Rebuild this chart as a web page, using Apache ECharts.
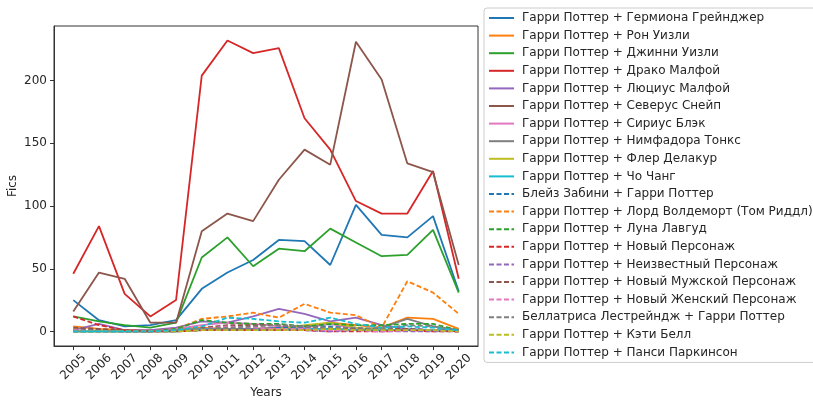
<!DOCTYPE html>
<html>
<head>
<meta charset="utf-8">
<script src="https://cdn.jsdelivr.net/npm/echarts@6/dist/echarts.min.js"></script>
<style>
html,body{margin:0;padding:0;background:#fff;}
#chart{width:813px;height:400px;}
</style>
</head>
<body>
<div id="chart"></div>
<script>
const years = [2005,2006,2007,2008,2009,2010,2011,2012,2013,2014,2015,2016,2017,2018,2019,2020];
const yTicks = [0,50,100,150,200];
const xTitle = 'Years';
const yTitle = 'Fics';

const names = [
  "Гарри Поттер + Гермиона Грейнджер",
  "Гарри Поттер + Рон Уизли",
  "Гарри Поттер + Джинни Уизли",
  "Гарри Поттер + Драко Малфой",
  "Гарри Поттер + Люциус Малфой",
  "Гарри Поттер + Северус Снейп",
  "Гарри Поттер + Сириус Блэк",
  "Гарри Поттер + Нимфадора Тонкс",
  "Гарри Поттер + Флер Делакур",
  "Гарри Поттер + Чо Чанг",
  "Блейз Забини + Гарри Поттер",
  "Гарри Поттер + Лорд Волдеморт (Том Риддл)",
  "Гарри Поттер + Луна Лавгуд",
  "Гарри Поттер + Новый Персонаж",
  "Гарри Поттер + Неизвестный Персонаж",
  "Гарри Поттер + Новый Мужской Персонаж",
  "Гарри Поттер + Новый Женский Персонаж",
  "Беллатриса Лестрейндж + Гарри Поттер",
  "Гарри Поттер + Кэти Белл",
  "Гарри Поттер + Панси Паркинсон"
];

const hermione  = [25,9,4,5,9,34,47,57,73,72,53,101,77,75,92,32];
const ron       = [4,2,1,1,2,3,2,2,3,4,7,5,3,11,10,2];
const ginny     = [12,8,5,3,7,59,75,52,66,64,82,71,60,61,81,31];
const draco     = [46,84,30,12,25,204,232,222,226,170,145,104,94,94,128,42];
const lucius    = [1,6,1,1,3,8,7,12,18,14,8,11,5,2,1,1];
const snape     = [16,47,42,7,7,80,94,88,121,145,133,231,201,134,127,53];
const sirius    = [0,0,0,0,2,5,7,6,4,3,6,2,1,1,1,0];
const tonks     = [0,0,0,0,1,2,2,2,3,2,2,1,3,10,4,1];
const fleur     = [0,0,0,0,0,1,1,1,2,5,7,3,1,1,1,0];
const cho       = [0,0,0,0,0,2,1,1,1,2,2,1,1,1,1,0];
const blaise    = [0,0,0,0,0,1,1,2,3,4,4,2,1,2,1,1];
const voldemort = [2,1,1,0,2,10,12,15,11,22,15,13,3,40,31,14];
const luna      = [1,1,0,0,2,9,7,6,6,4,6,5,5,6,6,1];
const newChar   = [12,5,1,0,0,1,1,1,1,1,0,0,0,1,0,0];
const unknown   = [1,1,0,0,0,1,1,1,1,1,0,1,0,0,0,0];
const newMale   = [3,2,1,0,1,3,5,5,5,4,2,2,2,2,1,0];
const newFemale = [1,0,0,0,1,2,4,3,2,2,1,1,0,1,1,0];
const bellatrix = [0,0,0,0,1,2,3,4,5,4,3,3,2,5,4,1];
const katie     = [0,0,0,0,0,1,1,1,1,1,2,1,1,1,1,0];
const pansy     = [0,0,0,0,1,4,11,10,8,7,11,6,3,4,3,1];

const allValues = [hermione,ron,ginny,draco,lucius,snape,sirius,tonks,fleur,cho,
                   blaise,voldemort,luna,newChar,unknown,newMale,newFemale,bellatrix,katie,pansy];

const palette = ['#1f77b4','#ff7f0e','#2ca02c','#d62728','#9467bd','#8c564b','#e377c2','#7f7f7f','#bcbd22','#17becf'];

const series = allValues.map((vals, i) => ({
  name: names[i],
  type: 'line',
  symbol: 'none',
  showSymbol: false,
  animation: false,
  data: years.map((y, k) => [y, vals[k]]),
  lineStyle: {
    color: palette[i % 10],
    width: 1.8,
    type: i < 10 ? 'solid' : [5, 2.5]
  },
  itemStyle: { color: palette[i % 10] }
}));

const chart = echarts.init(document.getElementById('chart'), null, {renderer: 'canvas'});
const txt = '#262626';
chart.setOption({
  animation: false,
  backgroundColor: '#fff',
  grid: {
    left: 54, right: 335, top: 26, bottom: 54,
    show: true, borderColor: '#333', borderWidth: 1,
    containLabel: false, outerBoundsMode: 'none'
  },
  graphic: [
    {type: 'text', x: 266, y: 393, silent: true,
     style: {text: xTitle, fill: txt, font: '12px "DejaVu Sans"', textAlign: 'center', textVerticalAlign: 'middle'}},
    {type: 'text', x: 13, y: 186, rotation: Math.PI / 2, silent: true,
     style: {text: yTitle, fill: txt, font: '12px "DejaVu Sans"', textAlign: 'center', textVerticalAlign: 'middle'}}
  ],
  xAxis: {
    type: 'value',
    min: 2004.25, max: 2020.75,
    axisLine: {show: true, onZero: false, lineStyle: {color: '#333'}},
    axisTick: {show: true, inside: false, length: 4, lineStyle: {color: '#333'}, customValues: years},
    axisLabel: {
      customValues: years,
      formatter: v => String(v),
      rotate: 45, align: 'center', verticalAlign: 'middle', margin: 21,
      fontFamily: 'DejaVu Sans', fontSize: 12, color: txt
    },
    splitLine: {show: false}
  },
  yAxis: {
    type: 'value',
    min: -11.6, max: 243.6,
    axisLine: {show: true, onZero: false, lineStyle: {color: '#333'}},
    axisTick: {show: true, inside: false, length: 4, lineStyle: {color: '#333'}, customValues: yTicks},
    axisLabel: {
      customValues: yTicks,
      formatter: v => String(v),
      margin: 7,
      fontFamily: 'DejaVu Sans', fontSize: 12, color: txt
    },
    splitLine: {show: false}
  },
  legend: {
    data: names,
    orient: 'vertical',
    left: 484, top: 8,
    itemWidth: 25, itemHeight: 12,
    itemGap: 5.6,
    padding: [4, 30, 4, 4],
    borderColor: '#cccccc', borderWidth: 1, borderRadius: 3,
    backgroundColor: '#fff',
    selectedMode: false,
    itemStyle: {opacity: 0},
    lineStyle: {width: 2},
    textStyle: {fontFamily: 'DejaVu Sans', fontSize: 12, color: txt, padding: [0,0,0,3]}
  },
  series: series
});
</script>
</body>
</html>
